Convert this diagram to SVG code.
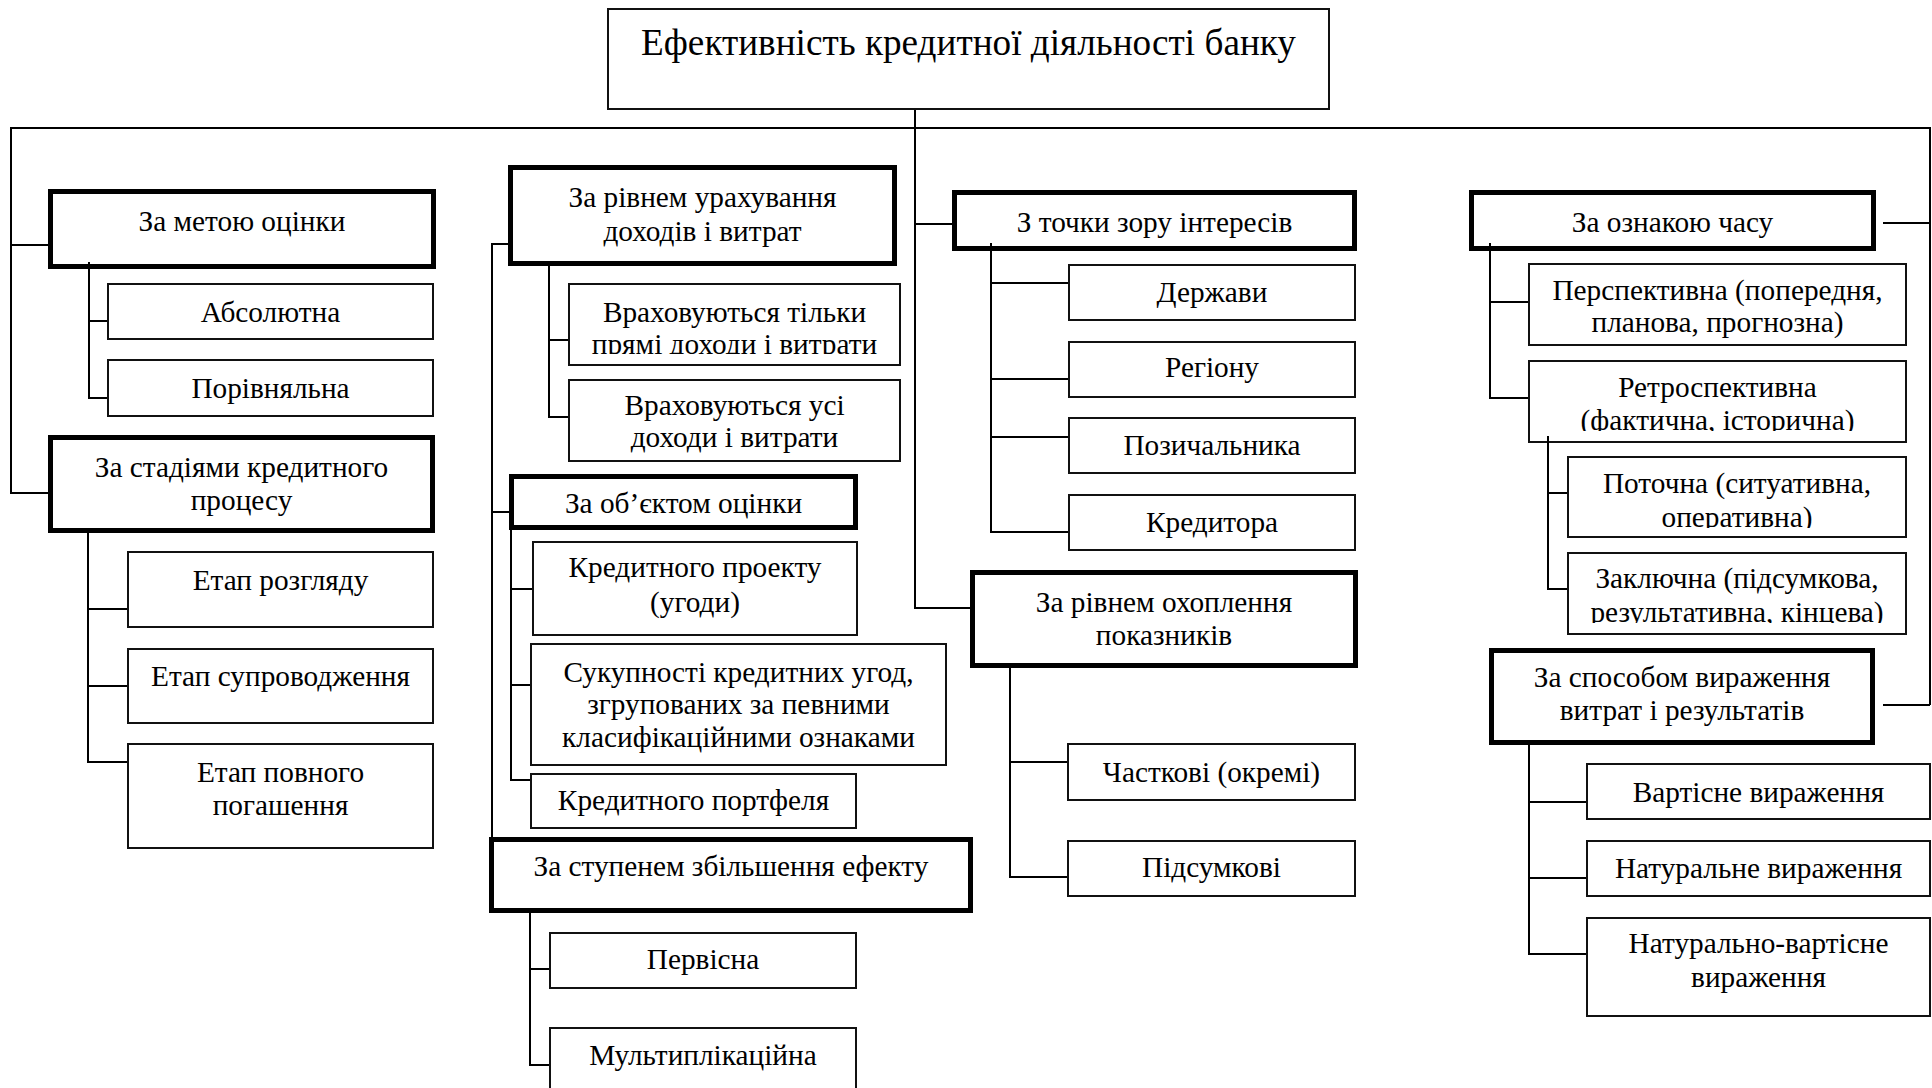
<svg xmlns="http://www.w3.org/2000/svg" width="1932" height="1088" viewBox="0 0 1932 1088">
  <defs>
    <style>
      .thick { fill: #fff; stroke: #000; stroke-width: 5; }
      .thin { fill: #fff; stroke: #111; stroke-width: 2; }
      .c { fill: none; stroke: #000; stroke-width: 2; }
      text { font-family: "Liberation Serif", "Times New Roman", serif; font-size: 29.3px; text-anchor: middle; fill: #000; }
      .title { font-size: 37.2px; }
    </style>
    <!-- text frames narrower than their boxes: lower lines get cut off -->
    <clipPath id="clipDirect"><rect x="569" y="284" width="331" height="70"/></clipPath>
    <clipPath id="clipRetro"><rect x="1529" y="361" width="377" height="70"/></clipPath>
    <clipPath id="clipCurrent"><rect x="1568" y="457" width="338" height="71"/></clipPath>
    <clipPath id="clipFinal"><rect x="1568" y="553" width="338" height="70"/></clipPath>
  </defs>

  <rect width="1932" height="1088" fill="#fff"/>

  <!-- root -->
  <g id="root">
    <rect class="thin" x="608" y="9" width="721" height="100"/>
    <text class="title" x="968.5" y="55">Ефективність кредитної діяльності банку</text>
  </g>

  <!-- column 1 -->
  <g id="purpose">
    <rect class="thick" x="50.5" y="191.5" width="383" height="75"/>
    <text x="242" y="231">За метою оцінки</text>
  </g>
  <g id="absolute">
    <rect class="thin" x="108" y="284" width="325" height="55"/>
    <text x="270.5" y="322">Абсолютна</text>
  </g>
  <g id="comparative">
    <rect class="thin" x="108" y="360" width="325" height="56"/>
    <text x="270.5" y="398">Порівняльна</text>
  </g>
  <g id="stages">
    <rect class="thick" x="50.5" y="437.5" width="382" height="93"/>
    <text x="241.5" y="477">За стадіями кредитного</text>
    <text x="241.5" y="510">процесу</text>
  </g>
  <g id="stage-review">
    <rect class="thin" x="128" y="552" width="305" height="75"/>
    <text x="280.5" y="590">Етап розгляду</text>
  </g>
  <g id="stage-support">
    <rect class="thin" x="128" y="649" width="305" height="74"/>
    <text x="280.5" y="686">Етап супроводження</text>
  </g>
  <g id="stage-repayment">
    <rect class="thin" x="128" y="744" width="305" height="104"/>
    <text x="280.5" y="782">Етап повного</text>
    <text x="280.5" y="815">погашення</text>
  </g>

  <!-- column 2 -->
  <g id="income-costs">
    <rect class="thick" x="510.5" y="167.5" width="384" height="96"/>
    <text x="702.5" y="207">За рівнем урахування</text>
    <text x="702.5" y="241">доходів і витрат</text>
  </g>
  <g id="direct-only">
    <rect class="thin" x="569" y="284" width="331" height="81"/>
    <g clip-path="url(#clipDirect)">
      <text x="734.5" y="322">Враховуються тільки</text>
      <text x="734.5" y="354">прямі доходи і витрати</text>
    </g>
  </g>
  <g id="all-costs">
    <rect class="thin" x="569" y="380" width="331" height="81"/>
    <text x="734.5" y="415">Враховуються усі</text>
    <text x="734.5" y="447">доходи і витрати</text>
  </g>
  <g id="object">
    <rect class="thick" x="511.5" y="476.5" width="344" height="51"/>
    <text x="683.5" y="513">За об’єктом оцінки</text>
  </g>
  <g id="project">
    <rect class="thin" x="533" y="542" width="324" height="93"/>
    <text x="695" y="577">Кредитного проекту</text>
    <text x="695" y="612">(угоди)</text>
  </g>
  <g id="aggregate">
    <rect class="thin" x="531" y="644" width="415" height="121"/>
    <text x="738.5" y="682">Сукупності кредитних угод,</text>
    <text x="738.5" y="714">згрупованих за певними</text>
    <text x="738.5" y="747">класифікаційними ознаками</text>
  </g>
  <g id="portfolio">
    <rect class="thin" x="531" y="774" width="325" height="54"/>
    <text x="693.5" y="810">Кредитного портфеля</text>
  </g>
  <g id="effect-growth">
    <rect class="thick" x="491.5" y="839.5" width="479" height="71"/>
    <text x="731" y="876">За ступенем збільшення ефекту</text>
  </g>
  <g id="primary">
    <rect class="thin" x="550" y="933" width="306" height="55"/>
    <text x="703" y="969">Первісна</text>
  </g>
  <g id="multiplier">
    <rect class="thin" x="550" y="1028" width="306" height="80"/>
    <text x="703" y="1065">Мультиплікаційна</text>
  </g>

  <!-- column 3 -->
  <g id="interests">
    <rect class="thick" x="954.5" y="192.5" width="400" height="56"/>
    <text x="1154.5" y="232">З точки зору інтересів</text>
  </g>
  <g id="state">
    <rect class="thin" x="1069" y="265" width="286" height="55"/>
    <text x="1212" y="302">Держави</text>
  </g>
  <g id="region">
    <rect class="thin" x="1069" y="342" width="286" height="55"/>
    <text x="1212" y="377">Регіону</text>
  </g>
  <g id="borrower">
    <rect class="thin" x="1069" y="418" width="286" height="55"/>
    <text x="1212" y="455">Позичальника</text>
  </g>
  <g id="creditor">
    <rect class="thin" x="1069" y="495" width="286" height="55"/>
    <text x="1212" y="532">Кредитора</text>
  </g>
  <g id="coverage">
    <rect class="thick" x="972.5" y="572.5" width="383" height="93"/>
    <text x="1164" y="612">За рівнем охоплення</text>
    <text x="1164" y="645">показників</text>
  </g>
  <g id="partial">
    <rect class="thin" x="1068" y="744" width="287" height="56"/>
    <text x="1211.5" y="782">Часткові (окремі)</text>
  </g>
  <g id="summary">
    <rect class="thin" x="1068" y="841" width="287" height="55"/>
    <text x="1211.5" y="877">Підсумкові</text>
  </g>

  <!-- column 4 -->
  <g id="time">
    <rect class="thick" x="1471.5" y="192.5" width="402" height="56"/>
    <text x="1672.5" y="232">За ознакою часу</text>
  </g>
  <g id="prospective">
    <rect class="thin" x="1529" y="264" width="377" height="81"/>
    <text x="1717.5" y="300">Перспективна (попередня,</text>
    <text x="1717.5" y="332">планова, прогнозна)</text>
  </g>
  <g id="retrospective">
    <rect class="thin" x="1529" y="361" width="377" height="81"/>
    <g clip-path="url(#clipRetro)">
      <text x="1717.5" y="397">Ретроспективна</text>
      <text x="1717.5" y="430">(фактична, історична)</text>
    </g>
  </g>
  <g id="current">
    <rect class="thin" x="1568" y="457" width="338" height="80"/>
    <g clip-path="url(#clipCurrent)">
      <text x="1737" y="493">Поточна (ситуативна,</text>
      <text x="1737" y="527">оперативна)</text>
    </g>
  </g>
  <g id="final">
    <rect class="thin" x="1568" y="553" width="338" height="81"/>
    <g clip-path="url(#clipFinal)">
      <text x="1737" y="588">Заключна (підсумкова,</text>
      <text x="1737" y="622">результативна, кінцева)</text>
    </g>
  </g>
  <g id="expression">
    <rect class="thick" x="1491.5" y="650.5" width="381" height="92"/>
    <text x="1682" y="687">За способом вираження</text>
    <text x="1682" y="720">витрат і результатів</text>
  </g>
  <g id="value">
    <rect class="thin" x="1587" y="764" width="343" height="55"/>
    <text x="1758.5" y="802">Вартісне вираження</text>
  </g>
  <g id="natural">
    <rect class="thin" x="1587" y="841" width="343" height="55"/>
    <text x="1758.5" y="878">Натуральне вираження</text>
  </g>
  <g id="natural-value">
    <rect class="thin" x="1587" y="918" width="343" height="98"/>
    <text x="1758.5" y="953">Натурально-вартісне</text>
    <text x="1758.5" y="987">вираження</text>
  </g>

  <!-- connectors -->
  <g id="connectors" class="c">
    <!-- trunk and bus -->
    <path d="M915 110 V608 H970"/>
    <path d="M11 494 V128 H1930 V705"/>
    <path d="M11 245 H48 M11 493 H48"/>
    <path d="M915 224 H952"/>
    <path d="M1883 223 H1930 M1883 705 H1930"/>
    <!-- column 2 spine -->
    <path d="M508 244 H492 V838"/>
    <path d="M492 512 H509"/>
    <!-- purpose -->
    <path d="M89 262 V398 H107 M89 321 H107"/>
    <!-- stages -->
    <path d="M88 533 V762 H127 M88 609 H127 M88 686 H127"/>
    <!-- income / costs -->
    <path d="M549 266 V417 H568 M549 340 H568"/>
    <!-- object -->
    <path d="M511 530 V780 H530 M511 589 H532 M511 685 H530"/>
    <!-- effect growth -->
    <path d="M530 913 V1065 H549 M530 969 H549"/>
    <!-- interests -->
    <path d="M991 243 V532 H1068 M991 283 H1068 M991 379 H1068 M991 437 H1068"/>
    <!-- coverage -->
    <path d="M1010 668 V877 H1067 M1010 762 H1067"/>
    <!-- time -->
    <path d="M1490 243 V398 H1528 M1490 302 H1528"/>
    <path d="M1548 436 V589 H1567 M1548 493 H1567"/>
    <!-- expression -->
    <path d="M1529 745 V954 H1586 M1529 802 H1586 M1529 878 H1586"/>
  </g>
</svg>
